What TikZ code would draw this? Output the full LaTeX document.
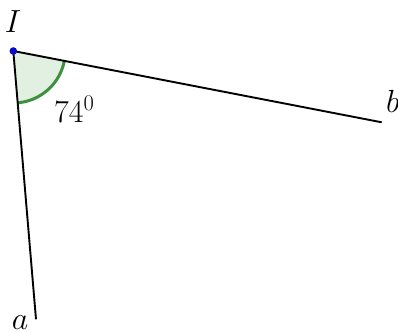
\RequirePackage{fix-cm}
\documentclass[tikz,border=0pt]{standalone}
\definecolor{ptblue}{RGB}{10,10,200}
\definecolor{arcgreen}{RGB}{62,145,62}
\definecolor{sectorfill}{RGB}{226,240,226}
\begin{document}
\begin{tikzpicture}[x=1pt,y=-1pt,
  seg/.style={line width=1.9pt,black},
  lbl/.style={inner sep=0pt,font=\fontsize{32}{38}\selectfont},
  anglefill/.style={fill=sectorfill},
  anglearc/.style={draw=arcgreen,line width=3pt}]
\useasboundingbox (0,0) rectangle (398,332);
\coordinate (I) at (13.3,51);
\coordinate (B) at (381.7,122.3);
\coordinate (A) at (36,319.3);
% angle sector
\fill[anglefill] (I) -- ++(10.95:52) arc[start angle=10.95,end angle=85.16,radius=52] -- cycle;
\draw[anglearc] (I) ++(10.95:52) arc[start angle=10.95,end angle=85.16,radius=52];
\draw[seg] (I) -- (B);
\draw[seg] (I) -- (A);
\fill[ptblue] (I) circle (3.8pt);
\node[lbl,anchor=base] (lI) at (13,32) {$I$};
\node[lbl,anchor=base west] (lang) at (54,122) {$74^0$};
\node[lbl,anchor=base west] (lb) at (386,112) {$b$};
\node[lbl,anchor=base] (la) at (20,329) {$a$};
\end{tikzpicture}
\end{document}
